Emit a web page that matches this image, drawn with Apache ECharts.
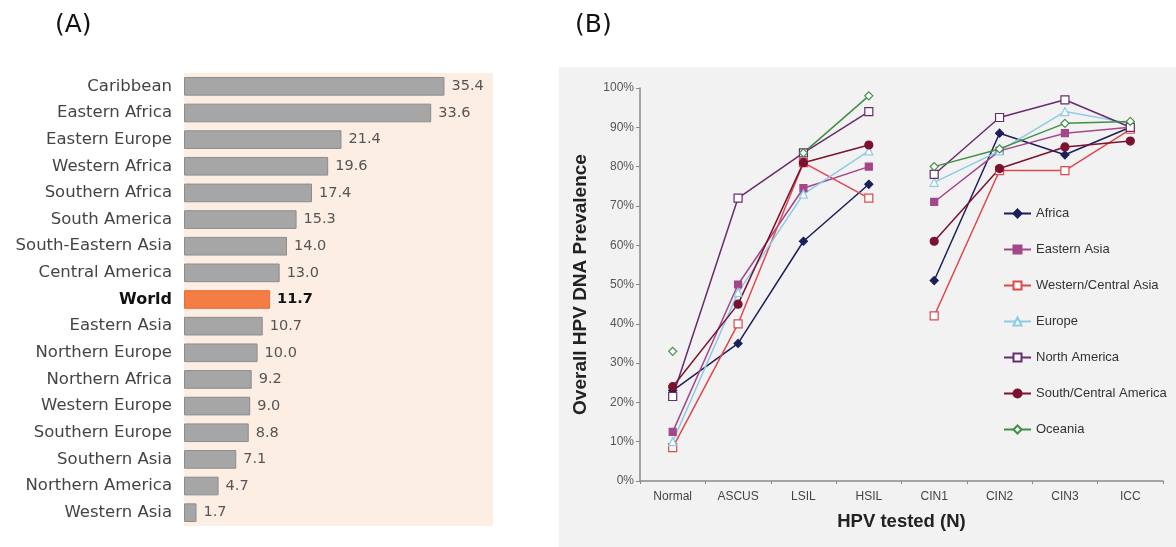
<!DOCTYPE html>
<html>
<head>
<meta charset="utf-8">
<script src="https://cdn.jsdelivr.net/npm/echarts@6/dist/echarts.min.js"></script>
<style>
html,body{margin:0;padding:0;background:#fff;}
#c{width:1176px;height:547px;}
</style>
</head>
<body>
<div id="c"></div>
<script>
// ---- Panel A data ----
const regionsA = ['Caribbean','Eastern Africa','Eastern Europe','Western Africa','Southern Africa','South America','South-Eastern Asia','Central America','World','Eastern Asia','Northern Europe','Northern Africa','Western Europe','Southern Europe','Southern Asia','Northern America','Western Asia'];
const valuesA = [35.4,33.6,21.4,19.6,17.4,15.3,14.0,13.0,11.7,10.7,10.0,9.2,9.0,8.8,7.1,4.7,1.7];

// ---- Panel B data ----
const stagesB = ['Normal','ASCUS','LSIL','HSIL','CIN1','CIN2','CIN3','ICC'];
const africa       = [23, 35, 61, 75.5, 51, 88.5, 83, 90];
const easternAsia  = [12.5, 50, 74.5, 80, 71, 84, 88.5, 90];
const wcAsia       = [8.5, 40, 81, 72, 42, 79, 79, 89.5];
const europe       = [10, 48, 73, 84, 76, 84, 94, 91];
const northAmerica = [21.5, 72, 83.5, 94, 78, 92.5, 97, 90];
const scAmerica    = [24, 45, 81, 85.5, 61, 79.5, 85, 86.5];
const oceania      = [33, null, 83.5, 98, 80, 84.5, 91, 91.5];

const chart = echarts.init(document.getElementById('c'), null, {renderer:'canvas'});

const regionStyles = [
  {name:'Africa', data:africa, color:'#1b1f5c', symbol:'diamond', size:8, fill:'#1b1f5c'},
  {name:'Eastern Asia', data:easternAsia, color:'#a4478a', symbol:'rect', size:7, fill:'#a4478a'},
  {name:'Western/Central Asia', data:wcAsia, color:'#e0474a', symbol:'rect', size:8, fill:'#ffffff'},
  {name:'Europe', data:europe, color:'#8ccbe3', symbol:'triangle', size:8, fill:'#ffffff'},
  {name:'North America', data:northAmerica, color:'#6a2a6e', symbol:'rect', size:8, fill:'#ffffff'},
  {name:'South/Central America', data:scAmerica, color:'#7a1230', symbol:'circle', size:8, fill:'#7a1230'},
  {name:'Oceania', data:oceania, color:'#3f8f45', symbol:'diamond', size:8, fill:'#ffffff'}
];

const lineSeries = [];
regionStyles.forEach(r => {
  const pre = r.data.map((v,i) => (i < 4 && v !== null) ? v : '-');
  const post = r.data.map((v,i) => (i >= 4 && v !== null) ? v : '-');
  [pre, post].forEach(d => {
    lineSeries.push({
      type:'line', name:r.name, xAxisIndex:1, yAxisIndex:1,
      data:d, symbol:r.symbol, symbolSize:r.size, showSymbol:true,
      connectNulls:false, animation:false,
      lineStyle:{color:r.color, width:1.5},
      itemStyle:{color:r.fill, borderColor:r.color, borderWidth:1.2}
    });
  });
});

const option = {
  animation:false,
  backgroundColor:'#ffffff',
  title:[
    {text:'(A)', left:50, top:8, textStyle:{fontFamily:'DejaVu Sans', fontSize:25, fontWeight:'normal', color:'#111'}},
    {text:'(B)', left:570, top:8, textStyle:{fontFamily:'DejaVu Sans', fontSize:25, fontWeight:'normal', color:'#111'}}
  ],
  graphic:[
    {type:'rect', left:559, top:67, z:-10, shape:{width:617, height:480}, style:{fill:'#f3f2f3'}}
  ],
  legend:{
    data:regionStyles.map(r=>r.name),
    orient:'vertical', left:998, top:202, itemGap:23, itemWidth:27, itemHeight:10,
    textStyle:{fontFamily:'Liberation Sans', fontSize:13, color:'#333'},
    selectedMode:false
  },
  grid:[
    {left:184, top:73, width:309, height:453, show:true, backgroundColor:'#fdeee4', borderWidth:0},
    {left:640, right:13, top:88, bottom:66}
  ],
  xAxis:[
    {gridIndex:0, type:'value', min:0, max:42, show:false},
    {gridIndex:1, type:'category', data:stagesB, boundaryGap:true,
     axisLine:{lineStyle:{color:'#8a8a8a', width:1.5}},
     axisTick:{show:true, length:3, lineStyle:{color:'#8a8a8a'}},
     axisLabel:{fontFamily:'Liberation Sans', fontSize:12, color:'#444', margin:10},
     name:'HPV tested (N)', nameLocation:'middle', nameGap:31,
     nameTextStyle:{fontFamily:'Liberation Sans', fontSize:18.5, fontWeight:'bold', color:'#222'}}
  ],
  yAxis:[
    {gridIndex:0, type:'category', data:regionsA, inverse:true,
     axisLine:{show:false}, axisTick:{show:false},
     axisLabel:{margin:12, fontFamily:'DejaVu Sans', fontSize:16.5, color:'#444',
       formatter:(v)=> v==='World' ? '{w|'+v+'}' : v,
       rich:{w:{fontFamily:'DejaVu Sans', fontSize:16, fontWeight:'bold', color:'#111'}}}},
    {gridIndex:1, type:'value', min:0, max:100, interval:10,
     splitLine:{show:false},
     axisLine:{show:true, lineStyle:{color:'#8a8a8a', width:1.5}},
     axisTick:{show:true, length:4, lineStyle:{color:'#8a8a8a'}},
     axisLabel:{fontFamily:'Liberation Sans', fontSize:12, color:'#555', formatter:'{value}%', margin:6},
     name:'Overall HPV DNA Prevalence', nameLocation:'middle', nameGap:50, nameRotate:90,
     nameTextStyle:{fontFamily:'Liberation Sans', fontSize:19, fontWeight:'bold', color:'#222'}}
  ],
  series:[
    {type:'bar', xAxisIndex:0, yAxisIndex:0, barCategoryGap:'30%',
     data:valuesA.map((v,i)=>{
       const isW = regionsA[i]==='World';
       return {value:v,
         itemStyle: isW ? {color:'#f47d45', borderColor:'#e86e35', borderWidth:1} : {color:'#a6a6a6', borderColor:'#8c8c8c', borderWidth:1},
         label: isW ? {fontWeight:'bold', color:'#111'} : {}};
     }),
     label:{show:true, position:'right', distance:7, fontFamily:'DejaVu Sans', fontSize:14.5, color:'#555',
       formatter:(p)=>p.value.toFixed(1)}
    },
    ...lineSeries
  ]
};
chart.setOption(option);
</script>
</body>
</html>
